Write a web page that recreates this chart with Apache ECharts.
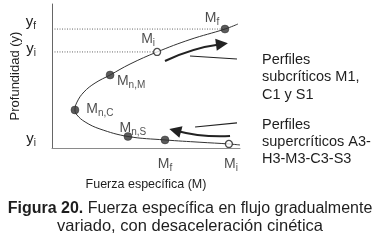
<!DOCTYPE html>
<html>
<head>
<meta charset="utf-8">
<script src="https://cdn.jsdelivr.net/npm/echarts@6/dist/echarts.min.js"></script>
<style>
html,body{margin:0;padding:0;background:#fff;}
#c{width:382px;height:242px;}
</style>
</head>
<body>
<div id="c"></div>
<script>
// Curve M(y): specific force vs depth (arbitrary units)
const curveM = [10.0, 9.41, 7.87, 6.01, 4.04, 2.55, 1.76, 1.33, 1.22, 1.33, 1.70, 2.29, 3.09, 4.15, 5.59, 7.34, 9.20, 9.89];
const curveY = [0.21, 0.28, 0.40, 0.56, 0.80, 1.32, 1.81, 2.29, 2.64, 3.19, 3.89, 4.51, 5.07, 5.83, 6.67, 7.53, 8.26, 8.61];

// Marked points
const pointNames = ['f', 'i', 'n,M', 'n,C', 'n,S', 'f', 'i'];
const pointM = [9.20, 5.59, 3.09, 1.22, 4.04, 6.01, 9.41];
const pointY = [8.26, 6.67, 5.07, 2.64, 0.80, 0.56, 0.28];
const pointOpen = [false, true, false, false, false, false, true];

// Depth tick labels
const yTickValues = [0.625, 6.875, 8.75];
const yTickSubs = ['i', 'i', 'f'];

// Direction arrows [startM, startY, endM, endY]
const arrowsMain = [[6.01, 6.04, 9.04, 7.22], [9.47, 0.83, 6.55, 1.22]];
const arrowsThin = [[7.34, 6.39, 9.84, 6.18], [7.61, 1.46, 9.84, 1.74]];

// Label offsets (style, in px)
const labelOffsets = [[-13, -11], [-9, -13], [21, 6], [25, -1], [5, -8], [0, 24], [2, 20]];

const FONT = '"Liberation Sans", Arial, sans-serif';
const TXT = '#1e1e1e';

const chart = echarts.init(document.getElementById('c'), null, {renderer: 'canvas'});

const subRich = {
  m: {fontFamily: FONT, fontSize: 14, color: TXT},
  s: {fontFamily: FONT, fontSize: 10, color: TXT, padding: [8, 0, 0, 0]}
};
const yRich = {
  m: {fontFamily: FONT, fontSize: 15, color: TXT},
  s: {fontFamily: FONT, fontSize: 10, color: TXT, padding: [8, 0, 0, 0]}
};

const curveData = curveM.map((m, i) => [m, curveY[i]]);
const pointData = pointM.map((m, i) => ({
  value: [m, pointY[i]],
  symbolSize: pointOpen[i] ? 7 : 8,
  itemStyle: pointOpen[i]
    ? {color: '#fff', borderColor: '#222', borderWidth: 1.3}
    : {color: '#333', borderColor: '#222', borderWidth: 0.5},
  label: {
    show: true,
    position: 'inside',
    offset: labelOffsets[i],
    formatter: '{m|M}{s|' + pointNames[i] + '}',
    rich: subRich
  }
}));

const toLines = arr => arr.map(a => ({coords: [[a[0], a[1]], [a[2], a[3]]]}));

chart.setOption({
  animation: false,
  backgroundColor: '#fff',
  grid: {left: 52, top: 4, width: 188, height: 144, containLabel: false},
  xAxis: {
    type: 'value', min: 0, max: 10,
    name: 'Fuerza específica (M)',
    nameLocation: 'middle', nameGap: 30,
    nameTextStyle: {fontFamily: FONT, fontSize: 12.5, color: TXT},
    axisLine: {show: true, lineStyle: {color: '#8a8a8a', width: 1}},
    axisTick: {show: false}, axisLabel: {show: false}, splitLine: {show: false}
  },
  yAxis: {
    type: 'value', min: 0, max: 10,
    name: 'Profundidad (y)',
    nameLocation: 'middle', nameGap: 29,
    nameTextStyle: {fontFamily: FONT, fontSize: 13, color: TXT},
    axisLine: {show: true, lineStyle: {color: '#666', width: 1}},
    axisTick: {show: false},
    splitLine: {show: false},
    axisLabel: {
      show: true,
      customValues: yTickValues,
      margin: 16,
      formatter: function (v) {
        let k = 0, best = 1e9;
        yTickValues.forEach((t, i) => { if (Math.abs(t - v) < best) { best = Math.abs(t - v); k = i; } });
        return '{m|y}{s|' + yTickSubs[k] + '}';
      },
      rich: yRich
    }
  },
  series: [
    {
      type: 'line', data: [[0, pointY[0]], [pointM[0], pointY[0]]],
      symbol: 'none', lineStyle: {color: '#666', width: 1, type: [1, 1.5]}, z: 1
    },
    {
      type: 'line', data: [[0, pointY[1]], [pointM[1], pointY[1]]],
      symbol: 'none', lineStyle: {color: '#666', width: 1, type: [1, 1.5]}, z: 1
    },
    {
      type: 'line', data: curveData, smooth: 0.4, symbol: 'none',
      lineStyle: {color: '#333', width: 1}, z: 2
    },
    {
      type: 'lines', coordinateSystem: 'cartesian2d', data: toLines(arrowsMain),
      symbol: ['none', 'triangle'], symbolSize: [9, 12],
      lineStyle: {color: '#222', width: 2, curveness: 0.08, opacity: 1}, z: 3
    },
    {
      type: 'lines', coordinateSystem: 'cartesian2d', data: toLines(arrowsThin),
      symbol: ['none', 'none'],
      lineStyle: {color: '#222', width: 1.2, curveness: 0, opacity: 1}, z: 3
    },
    {
      type: 'scatter', data: pointData, clip: false, z: 4
    }
  ],
  graphic: [
    {
      type: 'text', left: 262, top: 51,
      style: {text: 'Perfiles\nsubcríticos M1,\nC1 y S1', font: '14.5px ' + FONT, fill: TXT, lineHeight: 17.5}
    },
    {
      type: 'text', left: 262, top: 116,
      style: {text: 'Perfiles\nsupercríticos A3-\nH3-M3-C3-S3', font: '14.5px ' + FONT, fill: TXT, lineHeight: 17}
    },
    {
      type: 'text', x: 190, y: 209,
      style: {
        text: '{b|Figura 20.} Fuerza específica en flujo gradualmente',
        align: 'center', verticalAlign: 'middle',
        font: '16px ' + FONT, fill: TXT,
        rich: {b: {fontFamily: FONT, fontSize: 16, fontWeight: 'bold', color: TXT}}
      }
    },
    {
      type: 'text', x: 190, y: 226,
      style: {
        text: 'variado, con desaceleración cinética',
        align: 'center', verticalAlign: 'middle',
        font: '16.5px ' + FONT, fill: TXT
      }
    }
  ]
});
</script>
</body>
</html>
